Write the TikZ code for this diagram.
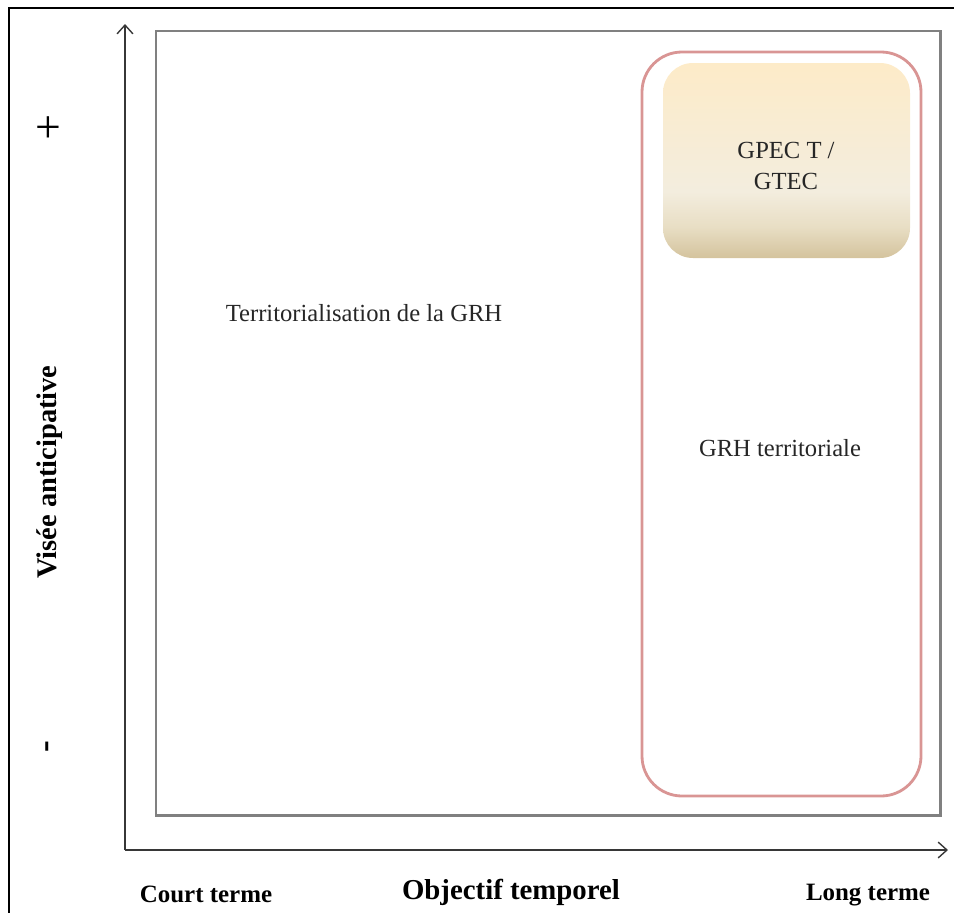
\documentclass[tikz,border=0pt]{standalone}
\usepackage{fontspec}
\setmainfont{Liberation Serif}
\usetikzlibrary{arrows.meta}
\definecolor{framegray}{RGB}{128,128,128}
\definecolor{axisgray}{RGB}{55,55,55}
\definecolor{pinkline}{RGB}{217,149,148}
\definecolor{gtop}{RGB}{253,235,200}
\definecolor{gmid}{RGB}{243,237,222}
\definecolor{gbot2}{RGB}{232,222,196}
\definecolor{gbot}{RGB}{212,195,157}
\pgfdeclareverticalshading{gpecshade}{100bp}{color(0bp)=(gbot); color(25bp)=(gbot); color(33bp)=(gbot2); color(42bp)=(gmid); color(75bp)=(gtop); color(100bp)=(gtop)}
\tikzset{
  axisline/.style={draw=axisgray, line width=0.8pt, -{Straight Barb[length=5pt,width=9pt]}},
  boldlabel/.style={font=\bfseries\fontsize{14.2pt}{16pt}\selectfont, inner sep=0pt},
  plainlabel/.style={font=\fontsize{14pt}{18pt}\selectfont, inner sep=0pt, align=center, text=black!85},
}
\begin{document}
\begin{tikzpicture}[x=0.02cm, y=-0.02cm]
\useasboundingbox (0,0) rectangle (954,913);
% outer frame (cropped)
\draw[black, line width=1.2pt] (9,913) -- (9,8) -- (954,8);
% gray rectangle
\draw[framegray, line width=1.7pt] (156,31) rectangle (940,815);
% axes
\coordinate (origin) at (125,850);
\coordinate (ytip) at (125,24);
\coordinate (xtip) at (948,850);
\draw[axisline] (origin) -- (ytip);
\draw[axisline] (origin) -- (xtip);
% pink rounded rectangle
\draw[pinkline, line width=1.6pt, rounded corners=0.8cm] (642,52) rectangle (921,796);
% GPEC box
\shade[shading=gpecshade, rounded corners=0.6cm] (663,63) rectangle (910,258);
\node[plainlabel] (gpec) at (786,166) {GPEC T /\\GTEC};
% texts
\node[plainlabel] (terr) at (364,313) {Territorialisation de la GRH};
\node[plainlabel] (grht) at (780,448) {GRH territoriale};
\node[font=\fontsize{26pt}{28pt}\selectfont, inner sep=0pt] (plus) at (48,130) {+};
\node[font=\bfseries\fontsize{20pt}{22pt}\selectfont, inner sep=0pt, rotate=90] (minus) at (51,747) {-};
\node[font=\bfseries\fontsize{16.2pt}{18pt}\selectfont, inner sep=0pt, rotate=90] (visee) at (50,472) {Visée anticipative};
\node[boldlabel] (court) at (206,894) {Court terme};
\node[font=\bfseries\fontsize{16.4pt}{18pt}\selectfont, inner sep=0pt] (objectif) at (511,892) {Objectif temporel};
\node[boldlabel] (long) at (868,895) {Long terme};
\end{tikzpicture}
\end{document}
